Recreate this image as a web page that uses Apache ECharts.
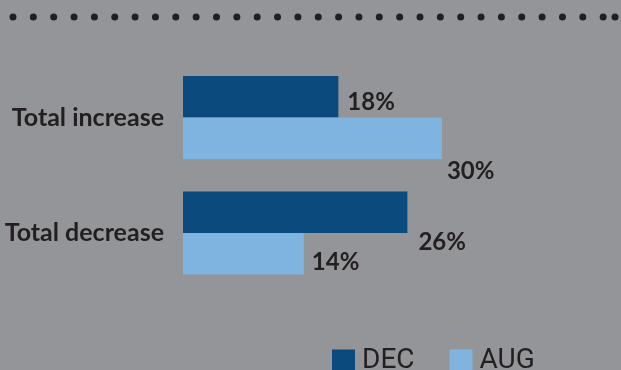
<!DOCTYPE html>
<html>
<head>
<meta charset="utf-8">
<script src="https://cdn.jsdelivr.net/npm/echarts@6/dist/echarts.min.js"></script>
<style>
  html, body { margin: 0; padding: 0; background: #939598; }
  #chart { width: 621px; height: 370px; }
</style>
</head>
<body>
<div id="chart"></div>
<script>
// Share of responses, by period
const categories = ['Total increase', 'Total decrease'];
const seriesNames = ['DEC', 'AUG'];
const decValues = [18, 26];
const augValues = [30, 14];

// Value-label nudges [dx, dy] for each bar, per series
const decLabelOffsets = [[9, 6], [11, 30]];
const augLabelOffsets = [[5, 33], [8, 9]];

const INK = '#231f20';
const DARK = '#0b4a7d';
const LIGHT = '#80b4e0';

function withLabels(values, offsets) {
  return values.map((v, i) => ({
    value: v,
    label: { offset: offsets[i] }
  }));
}

const valueLabel = {
  show: true,
  position: 'right',
  distance: 0,
  formatter: p => p.value + '%',
  fontFamily: 'Lato',
  fontWeight: 'bold',
  fontSize: 24,
  color: INK
};

const chart = echarts.init(document.getElementById('chart'), null, { renderer: 'canvas' });

chart.setOption({
  backgroundColor: '#939598',
  animation: false,
  grid: { left: 183, top: 59.75, width: 345.2, height: 231, containLabel: false },
  xAxis: {
    type: 'value', min: 0, max: 40, show: false
  },
  yAxis: {
    type: 'category',
    data: categories,
    inverse: true,
    axisLine: { show: false },
    axisTick: { show: false },
    splitLine: { show: false },
    axisLabel: {
      margin: 19,
      fontFamily: 'Lato',
      fontWeight: 'bold',
      fontSize: 25,
      color: INK,
      lineHeight: 30,
      padding: [0, 0, 8, 0]
    }
  },
  legend: {
    left: 332,
    top: 347,
    padding: 0,
    itemWidth: 23,
    itemHeight: 23,
    itemGap: 35,
    icon: 'rect',
    data: seriesNames,
    textStyle: {
      fontFamily: 'Roboto',
      fontSize: 28,
      color: INK,
      padding: [2, 0, 0, 2]
    }
  },
  graphic: [
    {
      type: 'line',
      shape: { x1: 13, y1: 17, x2: 605, y2: 17 },
      style: { stroke: '#231f20', lineWidth: 7, lineCap: 'round', lineDash: [0, 20.35] },
      silent: true
    },
    {
      type: 'circle',
      shape: { cx: 615, cy: 17, r: 3.5 },
      style: { fill: '#231f20' },
      silent: true
    }
  ],
  series: [
    {
      name: 'DEC',
      type: 'bar',
      data: withLabels(decValues, decLabelOffsets),
      barWidth: 41.5,
      barGap: '0%',
      itemStyle: { color: DARK },
      label: valueLabel
    },
    {
      name: 'AUG',
      type: 'bar',
      data: withLabels(augValues, augLabelOffsets),
      barWidth: 41.5,
      barGap: '0%',
      itemStyle: { color: LIGHT },
      label: valueLabel
    }
  ]
});
</script>
</body>
</html>
